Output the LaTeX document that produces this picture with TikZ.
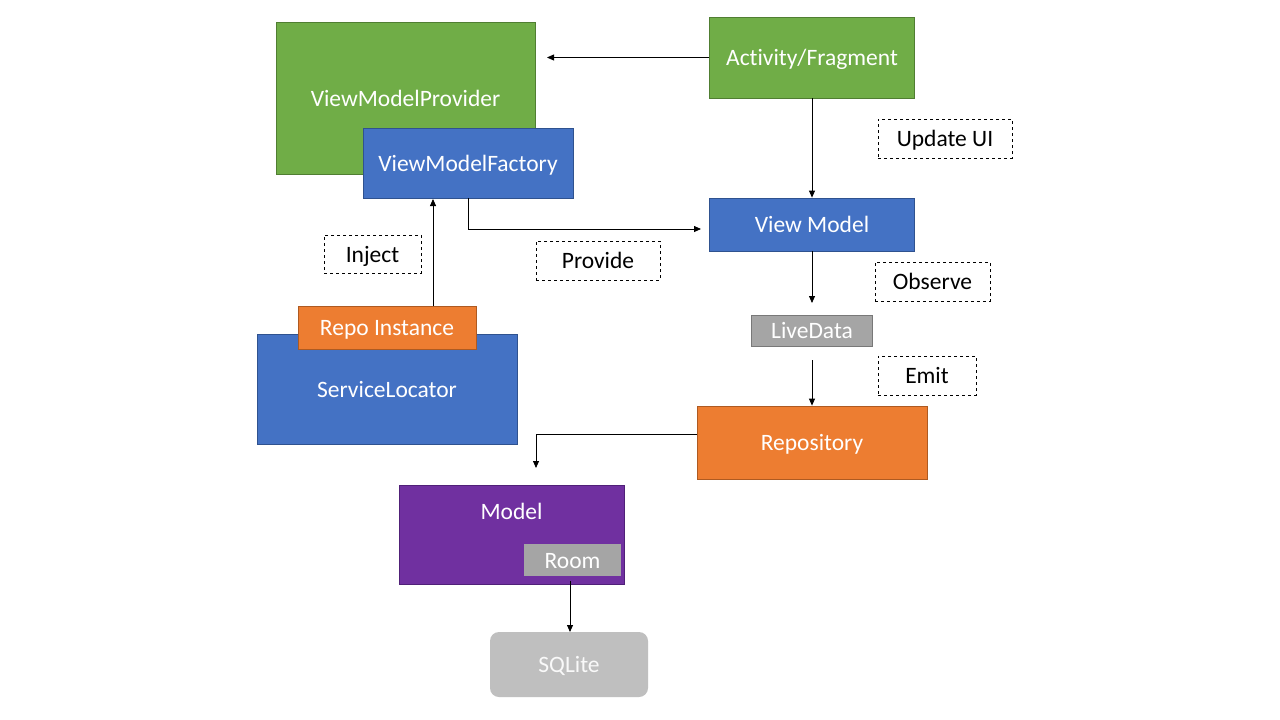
\documentclass[tikz,border=0pt]{standalone}
\usepackage{fontspec}
\setmainfont[Ligatures=NoCommon]{Carlito}
\usetikzlibrary{arrows.meta}
\definecolor{cgreen}{HTML}{70AD47}\definecolor{bgreen}{HTML}{507E32}
\definecolor{cblue}{HTML}{4472C4}\definecolor{bblue}{HTML}{2F528F}
\definecolor{corange}{HTML}{ED7D31}\definecolor{borange}{HTML}{AE5A21}
\definecolor{cgray}{HTML}{A5A5A5}\definecolor{bgray}{HTML}{787878}
\definecolor{cpurple}{HTML}{7030A0}\definecolor{bpurple}{HTML}{502078}
\definecolor{clight}{HTML}{BFBFBF}
\begin{document}
\begin{tikzpicture}[x=1pt,y=-1pt,
  every node/.style={font=\fontsize{23.5}{28}\selectfont, inner sep=0pt, text height=16.5pt, text depth=0pt},
  box/.style={draw, line width=0.8pt, text=white, minimum width=#1},
  gbox/.style={box=#1, fill=cgreen, draw=bgreen},
  bbox/.style={box=#1, fill=cblue, draw=bblue},
  obox/.style={box=#1, fill=corange, draw=borange},
  graybox/.style={box=#1, fill=cgray, draw=bgray},
  pbox/.style={box=#1, fill=cpurple, draw=bpurple},
  lbl/.style={draw, dashed, line width=0.7pt, text=black},
  arr/.style={-{Triangle[length=7pt,width=6pt]}, line width=0.8pt}]
\useasboundingbox (0,0) rectangle (1280,720);
\fill[white] (0,0) rectangle (1280,720);
% nodes
\node[gbox=259pt, minimum height=152pt] (prov) at (405.5,98) {ViewModelProvider};
\node[bbox=210pt, minimum height=70pt] (fac) at (468,163) {ViewModelFactory};
\node[gbox=205pt, minimum height=81pt] (act) at (812,57.5) {Activity/Fragment};
\node[lbl, minimum width=134pt, minimum height=39pt] (upd) at (945,138.5) {Update UI};
\node[bbox=205pt, minimum height=53pt] (vm) at (812,224.5) {View Model};
\node[lbl, minimum width=124pt, minimum height=39pt] (provl) at (598,260.5) {Provide};
\node[lbl, minimum width=97pt, minimum height=38pt] (inj) at (372.5,254) {Inject};
\node[bbox=260pt, minimum height=110pt] (sl) at (387,389) {ServiceLocator};
\node[obox=178pt, minimum height=43pt] (ri) at (387,327.5) {Repo Instance};
\node[lbl, minimum width=115pt, minimum height=39pt] (obs) at (932.5,281.5) {Observe};
\node[graybox=121pt, minimum height=31pt] (ld) at (812,330.5) {LiveData};
\node[lbl, minimum width=98pt, minimum height=39pt] (emit) at (927,375.5) {Emit};
\node[obox=230pt, minimum height=73pt] (repo) at (812,442.5) {Repository};
\node[pbox=225pt, minimum height=99pt] (model) at (511.5,534.5) {};
\node[text=white] (mtxt) at (511.5,511) {Model};
\node[graybox=97pt, minimum height=32pt, draw=none] (room) at (572.5,560) {Room};
\node[fill=clight, text=white!95!gray, rounded corners=9pt, minimum width=158pt, minimum height=65pt] (sq) at (569,664.5) {SQLite};
% coordinates
\coordinate (p1) at (547,57.5);
\coordinate (f1) at (468,229);
\coordinate (v1) at (701,229);
\coordinate (r1) at (433,306);
\coordinate (r2) at (433,199);
\coordinate (l1) at (812,303);
\coordinate (l2) at (812,360);
\coordinate (m0) at (697,434);
\coordinate (m1) at (536,468);
\coordinate (q0) at (570,581);
\coordinate (q1) at (570,632);
% connectors
\draw[arr] (act.west) -- (p1);
\draw[arr] (act.south) -- (vm.north);
\draw[arr] (fac.south) -- (f1) -- (v1);
\draw[arr] (r1) -- (r2);
\draw[arr] (vm.south) -- (l1);
\draw[arr] (l2) -- (repo.north);
\draw[arr] (m0) -| (m1);
\draw[arr] (q0) -- (q1);
\end{tikzpicture}
\end{document}
